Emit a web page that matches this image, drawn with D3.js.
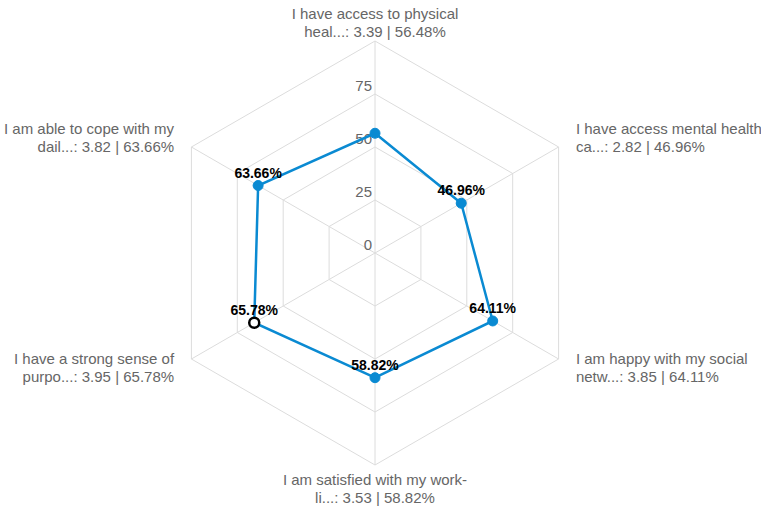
<!DOCTYPE html>
<html lang="en">
<head>
	<meta charset="utf-8">
	<title>Radar</title>
	<script type="text/javascript" src="https://cdn.jsdelivr.net/npm/d3@7"></script>
	<style type="text/css">
		body {
			margin: 0;
			background: #fff;
		}
		svg {
			display: block;
			font-family: "Liberation Sans", Arial, sans-serif;
		}
	</style>
</head>
<body>
	<script type="text/javascript">
		//Data
		var labels = [
			["I have access to physical", "heal...: 3.39 | 56.48%"],
			["I have access mental health", "ca...: 2.82 | 46.96%"],
			["I am happy with my social", "netw...: 3.85 | 64.11%"],
			["I am satisfied with my work-", "li...: 3.53 | 58.82%"],
			["I have a strong sense of", "purpo...: 3.95 | 65.78%"],
			["I am able to cope with my", "dail...: 3.82 | 63.66%"]
		];
		var values = [56.48, 46.96, 64.11, 58.82, 65.78, 63.66];
		var showValue = [false, true, true, true, true, true];
		var ticks = [0, 25, 50, 75, 100];
		var tickLabels = ["0", "25", "50", "75"];

		//Width and height
		var w = 761;
		var h = 513;
		var cx = 375;
		var cy = 253;
		var R = 212;

		var r = d3.scaleLinear().domain([0, 100]).range([0, R]);
		var angle = d3.scaleLinear().domain([0, labels.length]).range([0, 2 * Math.PI]);

		function pt(i, v) {
			var a = angle(i);
			return [cx + r(v) * Math.sin(a), cy - r(v) * Math.cos(a)];
		}

		var svg = d3.select("body")
			.append("svg")
			.attr("width", w)
			.attr("height", h);

		//Grid hexagons
		var idx = d3.range(labels.length);
		svg.selectAll("polygon.grid")
			.data(ticks.slice(1))
			.enter()
			.append("polygon")
			.attr("class", "grid")
			.attr("points", function(t) {
				return idx.map(function(i) { return pt(i, t).join(","); }).join(" ");
			})
			.style("fill", "none")
			.style("stroke", "#dcdcdc")
			.style("stroke-width", 1);

		//Spokes
		svg.selectAll("line.spoke")
			.data(idx)
			.enter()
			.append("line")
			.attr("x1", cx)
			.attr("y1", cy)
			.attr("x2", function(i) { return pt(i, 100)[0]; })
			.attr("y2", function(i) { return pt(i, 100)[1]; })
			.style("stroke", "#dcdcdc")
			.style("stroke-width", 1);

		//Tick labels
		svg.selectAll("text.tick")
			.data(tickLabels)
			.enter()
			.append("text")
			.attr("x", cx - 3)
			.attr("y", function(d) { return cy - r(+d) - 3; })
			.attr("text-anchor", "end")
			.style("font-size", "15px")
			.style("fill", "#666")
			.text(function(d) { return d; });

		//Axis labels
		var lab = svg.selectAll("text.axis")
			.data(labels)
			.enter()
			.append("text")
			.style("font-size", "15px")
			.style("fill", "#666")
			.attr("text-anchor", function(d, i) {
				var s = Math.sin(angle(i));
				return Math.abs(s) < 0.01 ? "middle" : (s > 0 ? "start" : "end");
			})
			.attr("transform", function(d, i) {
				var a = angle(i);
				var s = Math.sin(a), c = Math.cos(a);
				var x = cx + (r(100) + 20) * s;
				var y = cy - (r(100) + 18) * c;
				if (Math.abs(s) < 0.01 && c < 0) y += 6;
				return "translate(" + x + "," + y + ")";
			});
		lab.selectAll("tspan")
			.data(function(d) { return d; })
			.enter()
			.append("tspan")
			.attr("x", 0)
			.attr("y", function(d, j) { return -4 + j * 18; })
			.text(function(d) { return d; });

		//Series line
		var line = d3.line().curve(d3.curveLinearClosed);
		svg.append("path")
			.attr("d", line(values.map(function(v, i) { return pt(i, v); })))
			.style("fill", "none")
			.style("stroke", "#0a8ad2")
			.style("stroke-width", 2.5);

		//Points
		svg.selectAll("circle")
			.data(idx)
			.enter()
			.append("circle")
			.attr("cx", function(i) { return pt(i, values[i])[0]; })
			.attr("cy", function(i) { return pt(i, values[i])[1]; })
			.attr("r", 5)
			.style("fill", function(i) { return i === 4 ? "#fff" : "#0a8ad2"; })
			.style("stroke", function(i) { return i === 4 ? "#000" : "#0a8ad2"; })
			.style("stroke-width", function(i) { return i === 4 ? 2.5 : 1; });

		//Value labels
		svg.selectAll("text.val")
			.data(idx.filter(function(i) { return showValue[i]; }))
			.enter()
			.append("text")
			.attr("x", function(i) { return pt(i, values[i])[0]; })
			.attr("y", function(i) { return pt(i, values[i])[1] - 8; })
			.attr("text-anchor", "middle")
			.style("font-size", "14px")
			.style("font-weight", "bold")
			.style("fill", "#000")
			.text(function(i) { return values[i].toFixed(2) + "%"; });
	</script>
</body>
</html>
